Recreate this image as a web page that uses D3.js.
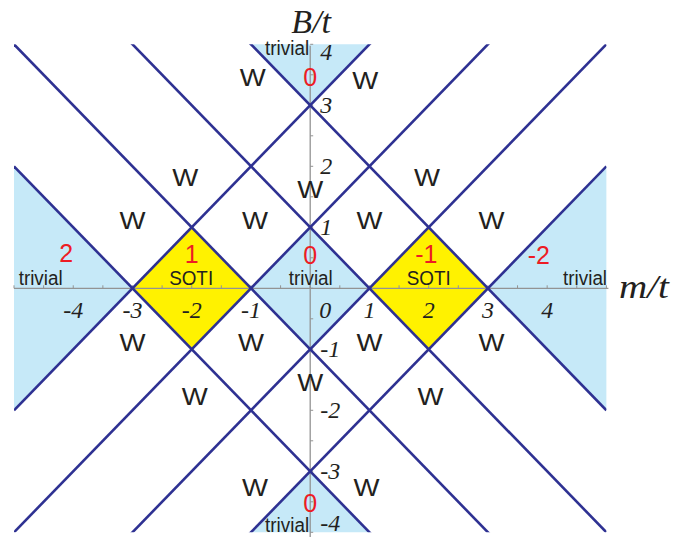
<!DOCTYPE html>
<html>
<head>
<meta charset="utf-8">
<script src="https://cdn.jsdelivr.net/npm/d3@7/dist/d3.min.js"></script>
<style>
  html, body { margin: 0; padding: 0; background: #fff; }
  svg { display: block; }
</style>
</head>
<body>
<svg id="chart" width="685" height="537"></svg>
<script>
// Phase diagram of the model in the (m/t, B/t) plane.

// Plot window in units of t
const mDomain = [-5, 5];
const bDomain = [-4, 4];

// Gap-closing lines B = slope * m + intercept
const lineSlopes = [1, -1];
const lineIntercepts = [-3, -1, 1, 3];

// Gapped phases, as polygons in (m, B)
const trivialRegions = [
  [[-1, 0], [0, 1], [1, 0], [0, -1]],
  [[-5, -2], [-3, 0], [-5, 2]],
  [[5, -2], [3, 0], [5, 2]],
  [[-1, 4], [0, 3], [1, 4]],
  [[-1, -4], [0, -3], [1, -4]]
];
const sotiRegions = [
  [[-3, 0], [-2, 1], [-1, 0], [-2, -1]],
  [[1, 0], [2, 1], [3, 0], [2, -1]]
];

// Axis tick labels
const mTickLabels = [-4, -3, -2, -1, 0, 1, 2, 3, 4];
const bTickLabels = [4, 3, 2, 1, -1, -2, -3, -4];
const minorStep = 0.5;

// Topological index of each gapped phase and where it is written
const phaseIndex = ["0", "2", "1", "0", "-1", "-2", "0"];
const phaseIndexM = [0, -4.12, -2.0, 0, 1.96, 3.86, 0];
const phaseIndexB = [3.46, 0.58, 0.56, 0.55, 0.56, 0.55, -3.52];

// Phase names
const phaseName = ["trivial", "SOTI", "trivial", "SOTI", "trivial", "trivial", "trivial"];
const phaseNameM = [-4.55, -2.01, 0.01, 2.0, 4.64, -0.39, -0.39];
const phaseNameB = [0.18, 0.18, 0.18, 0.18, 0.18, 3.94, -3.88];

// Gapless (Weyl) regions
const weylM = [-0.97, 0.93, -2.11, 0, 1.97, -3.0, -0.93, 1.0, 3.06,
               -3.0, -1.0, 1.0, 3.06, 0, -1.95, 2.03, -0.93, 0.95];
const weylB = [3.46, 3.41, 1.82, 1.63, 1.82, 1.12, 1.12, 1.12, 1.12,
               -0.88, -0.88, -0.88, -0.88, -1.55, -1.77, -1.77, -3.27, -3.27];

const svg = d3.select("#chart");

const x = d3.scaleLinear().domain(mDomain).range([14, 606.4]);
const y = d3.scaleLinear().domain(bDomain).range([532.3, 44.3]);

const navy = "#2e3192";
const lightBlue = "#c6e9f8";
const yellow = "#fff200";
const red = "#ed1c24";
const ink = "#231f20";
const axisGray = "#939393";
const sans = "'Liberation Sans', Arial, Helvetica, sans-serif";
const serif = "'Liberation Serif', 'Times New Roman', Times, serif";

svg.append("defs").append("clipPath").attr("id", "plot-clip")
  .append("rect")
  .attr("x", x(mDomain[0])).attr("y", y(bDomain[1]))
  .attr("width", x(mDomain[1]) - x(mDomain[0]))
  .attr("height", y(bDomain[0]) - y(bDomain[1]));

const poly = d3.line().x(d => x(d[0])).y(d => y(d[1]));

// Filled phases
svg.append("g").selectAll("path").data(trivialRegions).join("path")
  .attr("d", d => poly(d) + "Z").attr("fill", lightBlue);
svg.append("g").selectAll("path").data(sotiRegions).join("path")
  .attr("d", d => poly(d) + "Z").attr("fill", yellow);

// Axes
const axes = svg.append("g").attr("stroke", axisGray).attr("stroke-width", 1.3);
axes.append("line")
  .attr("x1", x(mDomain[0])).attr("x2", x(mDomain[1]) + 2)
  .attr("y1", y(0)).attr("y2", y(0));
axes.append("line")
  .attr("x1", x(0)).attr("x2", x(0))
  .attr("y1", y(bDomain[1]) + 1.5).attr("y2", 537);

const mMinor = d3.range(mDomain[0], mDomain[1] + 1e-9, minorStep);
axes.append("g").selectAll("line").data(mMinor).join("line")
  .attr("x1", d => x(d)).attr("x2", d => x(d))
  .attr("y1", y(0)).attr("y2", y(0) - 3)
  .attr("stroke-width", 1);
const bMinor = d3.range(bDomain[0], bDomain[1] + 1e-9, minorStep);
axes.append("g").selectAll("line").data(bMinor).join("line")
  .attr("x1", x(0)).attr("x2", x(0) + 3)
  .attr("y1", d => y(d)).attr("y2", d => y(d))
  .attr("stroke-width", 1);

// Phase boundaries
const boundaries = [];
lineSlopes.forEach(s => lineIntercepts.forEach(c => boundaries.push({ s, c })));
svg.append("g").attr("clip-path", "url(#plot-clip)")
  .selectAll("line").data(boundaries).join("line")
  .attr("x1", x(mDomain[0])).attr("y1", d => y(d.s * mDomain[0] + d.c))
  .attr("x2", x(mDomain[1])).attr("y2", d => y(d.s * mDomain[1] + d.c))
  .attr("stroke", navy).attr("stroke-width", 2.6);

// Tick labels
svg.append("g").selectAll("text").data(mTickLabels).join("text")
  .attr("x", d => x(d) + (d === 0 ? 15 : 0))
  .attr("y", y(0) + 30)
  .attr("text-anchor", "middle")
  .attr("font-family", serif).attr("font-style", "italic")
  .attr("font-size", 24).attr("fill", ink)
  .text(d => d < 0 ? "-" + Math.abs(d) : d);

svg.append("g").selectAll("text").data(bTickLabels).join("text")
  .attr("x", x(0) + 10)
  .attr("y", d => y(d) + (d === bDomain[1] ? 8 : d === bDomain[0] ? -9 : 0))
  .attr("dy", "0.34em")
  .attr("font-family", serif).attr("font-style", "italic")
  .attr("font-size", 24).attr("fill", ink)
  .text(d => d < 0 ? "-" + Math.abs(d) : d);

// Axis titles
svg.append("text")
  .attr("x", x(0) + 1).attr("y", 33)
  .attr("text-anchor", "middle")
  .attr("font-family", serif).attr("font-style", "italic")
  .attr("font-size", 34).attr("fill", ink)
  .text("B/t");
svg.append("text")
  .attr("x", 619).attr("y", 298)
  .attr("font-family", serif).attr("font-style", "italic")
  .attr("font-size", 34).attr("fill", ink)
  .attr("textLength", 50).attr("lengthAdjust", "spacingAndGlyphs")
  .text("m/t");

// Weyl regions
svg.append("g").selectAll("text").data(weylM).join("text")
  .attr("x", d => x(d)).attr("y", (d, i) => y(weylB[i]))
  .attr("dy", "0.36em")
  .attr("text-anchor", "middle")
  .attr("font-family", sans).attr("font-size", 24).attr("fill", ink)
  .attr("textLength", 26).attr("lengthAdjust", "spacingAndGlyphs")
  .text("W");

// Phase names
svg.append("g").selectAll("text").data(phaseName).join("text")
  .attr("x", (d, i) => x(phaseNameM[i])).attr("y", (d, i) => y(phaseNameB[i]))
  .attr("dy", "0.36em")
  .attr("text-anchor", "middle")
  .attr("font-family", sans).attr("font-size", 20).attr("fill", ink)
  .attr("textLength", 44).attr("lengthAdjust", "spacingAndGlyphs")
  .text(d => d);

// Topological indices
svg.append("g").selectAll("text").data(phaseIndex).join("text")
  .attr("x", (d, i) => x(phaseIndexM[i])).attr("y", (d, i) => y(phaseIndexB[i]))
  .attr("dy", "0.36em")
  .attr("text-anchor", "middle")
  .attr("font-family", sans).attr("font-size", 25).attr("fill", red)
  .text(d => d);
</script>
</body>
</html>
